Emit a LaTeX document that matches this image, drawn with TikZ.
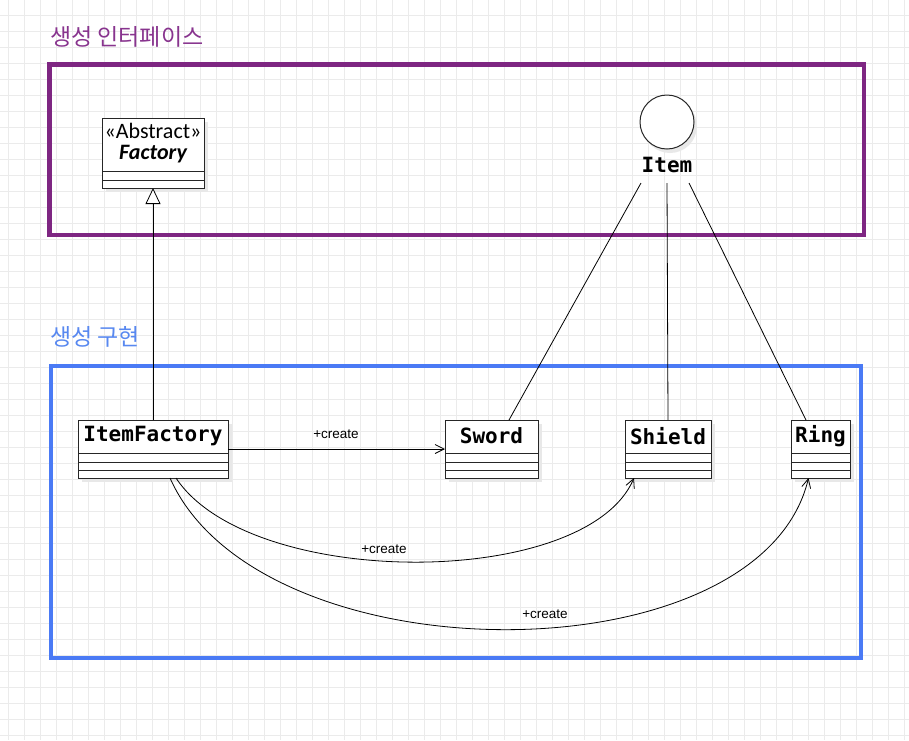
\documentclass[tikz,border=0pt]{standalone}
\usepackage{fontspec}
\setmainfont{Carlito}
\newfontfamily\kofont{Noto Sans CJK KR}
\newfontfamily\monofont{DejaVu Sans Mono}
\newfontfamily\labfont{Liberation Sans}
\usetikzlibrary{arrows.meta,shadows,calc}
\definecolor{framepurple}{RGB}{126,38,130}
\definecolor{titlepurple}{RGB}{136,52,142}
\definecolor{frameblue}{RGB}{74,122,245}
\definecolor{titleblue}{RGB}{88,136,240}
\definecolor{gridgray}{RGB}{235,235,235}
\begin{document}
\begin{tikzpicture}[x=1pt,y=-1pt,
  gridline/.style={draw=gridgray, line width=0.9pt},
  umlbox/.style={draw=black!85, line width=1pt, fill=white, inner sep=0pt, outer sep=0pt,
    drop shadow={shadow xshift=4pt, shadow yshift=-4pt, fill=black!9, opacity=1}},
  sepline/.style={draw=black!85, line width=1pt},
  classname/.style={inner sep=0pt, font=\monofont\bfseries\fontsize{21}{24}\selectfont},
  assoc/.style={draw=black, line width=0.8pt, -{Straight Barb[length=9pt,width=9pt,line width=0.8pt]}},
  plainline/.style={draw=black, line width=0.8pt},
  inherit/.style={draw=black, line width=0.8pt, -{Triangle[open,length=16pt,width=15pt,fill=white,line width=0.8pt]}},
  createlbl/.style={inner sep=0pt, font=\labfont\fontsize{13.5}{15}\selectfont},
  frame/.style={line width=4.5pt},
  titletext/.style={anchor=west, inner sep=0pt, font=\kofont\fontsize{23}{26}\selectfont}
]
\useasboundingbox (0,0) rectangle (909,740);
\fill[white] (0,0) rectangle (909,740);
\foreach \x in {8,24,...,904} \draw[gridline] (\x,0) -- (\x,740);
\foreach \y in {15,31,...,735} \draw[gridline] (0,\y) -- (909,\y);

% frames and titles
\draw[frame, draw=framepurple] (49.5,64.5) rectangle (864,235);
\draw[frame, draw=frameblue] (51,366) rectangle (861,658);
\node[titletext, text=titlepurple] (titletop) at (50,37) {생성 인터페이스};
\node[titletext, text=titleblue] (titlebot) at (50,337) {생성 구현};

% Abstract Factory
\node[umlbox, minimum width=102pt, minimum height=70pt] (abs) at (153,153) {};
\draw[sepline] ($(abs.north west)+(0,53.5)$) -- ($(abs.north east)+(0,53.5)$);
\draw[sepline] ($(abs.north west)+(0,62)$) -- ($(abs.north east)+(0,62)$);
\node[inner sep=0pt, font=\fontsize{22}{24}\selectfont] (absster) at (153,131) {«Abstract»};
\node[inner sep=0pt, font=\bfseries\itshape\fontsize{22}{24}\selectfont] (absname) at (153,154) {Factory};

% Item interface (lollipop)
\fill[black!9] (670,126) circle (27);
\node[circle, draw=black!85, line width=1pt, fill=white, minimum size=54pt, inner sep=0pt] (item) at (667,122) {};
\node[classname] (itemlbl) at (667,165) {Item};
\coordinate (it1) at (641,183);
\coordinate (it2) at (667,183);
\coordinate (it3) at (689,183);

% ItemFactory
\node[umlbox, minimum width=150pt, minimum height=58pt] (itemfactory) at (153,449) {};
\node[classname] (ifname) at (153,436) {ItemFactory};
% Sword
\node[umlbox, minimum width=93pt, minimum height=58pt] (sword) at (491.5,449) {};
\node[classname] (swname) at (491.5,436) {Sword};
% Shield
\node[umlbox, minimum width=86pt, minimum height=58pt] (shield) at (668,449) {};
\node[classname] (shname) at (668,436) {Shield};
% Ring
\node[umlbox, minimum width=59pt, minimum height=58pt] (ring) at (820.5,449) {};
\node[classname] (rgname) at (820.5,436) {Ring};

\foreach \b in {itemfactory,sword,shield,ring}{
  \draw[sepline] ($(\b.north west)+(0,33)$) -- ($(\b.north east)+(0,33)$);
  \draw[sepline] ($(\b.north west)+(0,42)$) -- ($(\b.north east)+(0,42)$);
  \draw[sepline] ($(\b.north west)+(0,50.5)$) -- ($(\b.north east)+(0,50.5)$);
}

% inheritance
\draw[inherit] (itemfactory.north) -- (abs.south);

% realization lines from Item
\draw[plainline] (it1) -- ($(sword.north)+(17.5,0)$);
\draw[plainline] (it2) -- (shield.north);
\draw[plainline] (it3) -- ($(ring.north)+(-14.5,0)$);

% create associations
\draw[assoc] (itemfactory.east) -- (sword.west);
\node[createlbl] (c1) at (336,434) {+create};
\draw[assoc] ($(itemfactory.south)+(23,0)$) .. controls +(74,112) and +(-48,112) .. ($(shield.south)+(-34,0)$);
\node[createlbl] (c2) at (384,549) {+create};
\draw[assoc] ($(itemfactory.south)+(17,0)$) .. controls +(90,202) and +(-48,202) .. ($(ring.south)+(-12,0)$);
\node[createlbl] (c3) at (545,614) {+create};
\end{tikzpicture}
\end{document}
